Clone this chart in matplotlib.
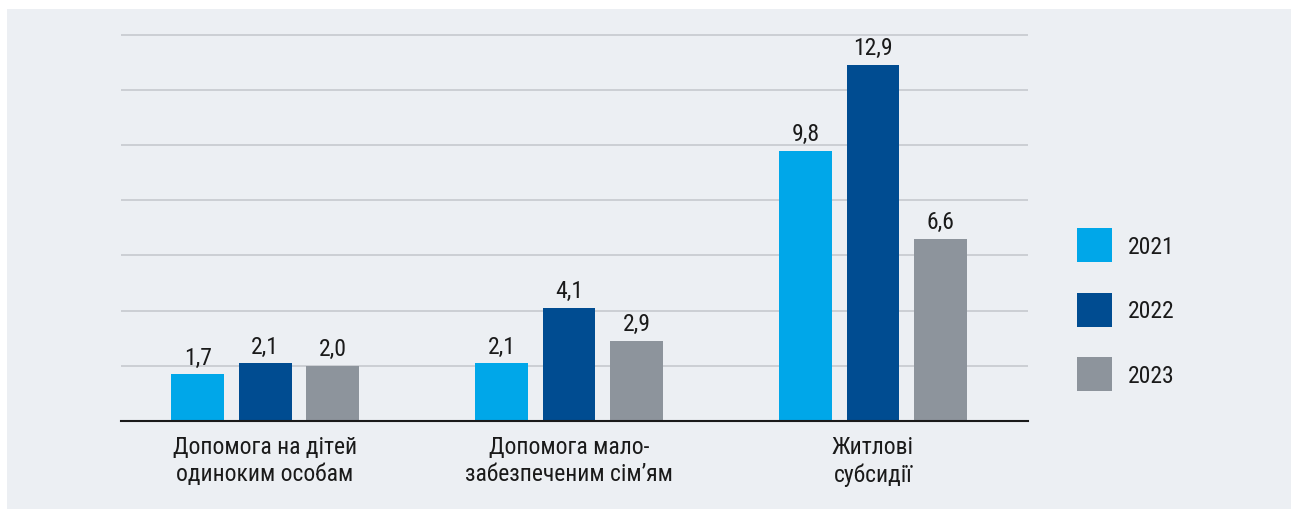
import matplotlib
matplotlib.use("Agg")
import matplotlib.pyplot as plt
from matplotlib.patches import Rectangle
from matplotlib import font_manager
import numpy as np

# -- data
categories = ["Допомога на дітей\nодиноким особам",
              "Допомога мало-\nзабезпеченим сім’ям",
              "Житлові\nсубсидії"]
years = ["2021", "2022", "2023"]
v2021 = [1.7, 2.1, 9.8]
v2022 = [2.1, 4.1, 12.9]
v2023 = [2.0, 2.9, 6.6]
colors = ["#00a7e9", "#004c91", "#8d949c"]

# pick a condensed face if one is around, else plain Roboto
names = {f.name for f in font_manager.fontManager.ttflist}
family, fs = "Roboto", 16.5
for cand in ["Roboto Condensed", "Liberation Sans Narrow", "Open Sans Condensed"]:
    if cand in names:
        family, fs = cand, 17
        break
plt.rcParams['font.family'] = [family, 'DejaVu Sans']

W, H = 1291, 510
fig = plt.figure(figsize=(W / 100, H / 100), dpi=100)
fig.patch.set_facecolor("white")
# panel background (behind the axes)
fig.patches.append(Rectangle((7 / W, 0), 1, 1 - 10 / H, transform=fig.transFigure,
                             facecolor="#eceff3", edgecolor="none", zorder=-5))

ax = fig.add_axes([121 / W, 88 / H, 907 / W, 14.2 * 27.6 / H])
ax.set_facecolor("none")

x = np.arange(len(categories))
step, width = 0.222, 0.174
series = [v2021, v2022, v2023]
for i, (vals, col, yr) in enumerate(zip(series, colors, years)):
    bars = ax.bar(x + (i - 1) * step, vals, width, color=col, label=yr, zorder=3)
    ax.bar_label(bars, labels=[f"{v:.1f}".replace(".", ",") for v in vals],
                 padding=4, fontsize=fs, color="#1a1a1a")

ax.set_xlim(-0.474, 2.51)
ax.set_ylim(0, 14.2)
ax.set_yticks(range(0, 15, 2))
ax.yaxis.grid(True, color="#c9ccd1", linewidth=1.3, zorder=0)
ax.set_axisbelow(True)
ax.tick_params(axis="y", length=0, labelleft=False)
ax.set_xticks(x)
ax.set_xticklabels(categories, fontsize=fs, color="#1a1a1a", linespacing=1.25)
ax.tick_params(axis="x", length=0, pad=10)
for s in ["top", "right", "left"]:
    ax.spines[s].set_visible(False)
ax.spines["bottom"].set_color("#1a1a1a")
ax.spines["bottom"].set_linewidth(1.5)
ax.spines["bottom"].set_zorder(4)

# legend: 35x34 px squares, rows 64.5 px apart
fpx = fs * 100 / 72
hh = (34 / fpx - 0.245) / 0.65
leg = ax.legend(loc="upper left", bbox_to_anchor=(1077 / W, 1 - 229 / H),
                bbox_transform=fig.transFigure, frameon=False, fontsize=fs,
                handlelength=35 / fpx, handleheight=hh,
                labelspacing=(64.5 - 34) / fpx,
                handletextpad=16 / fpx, borderpad=0, borderaxespad=0)
for t in leg.get_texts():
    t.set_color("#1a1a1a")

fig.savefig("out.png", dpi=100)
